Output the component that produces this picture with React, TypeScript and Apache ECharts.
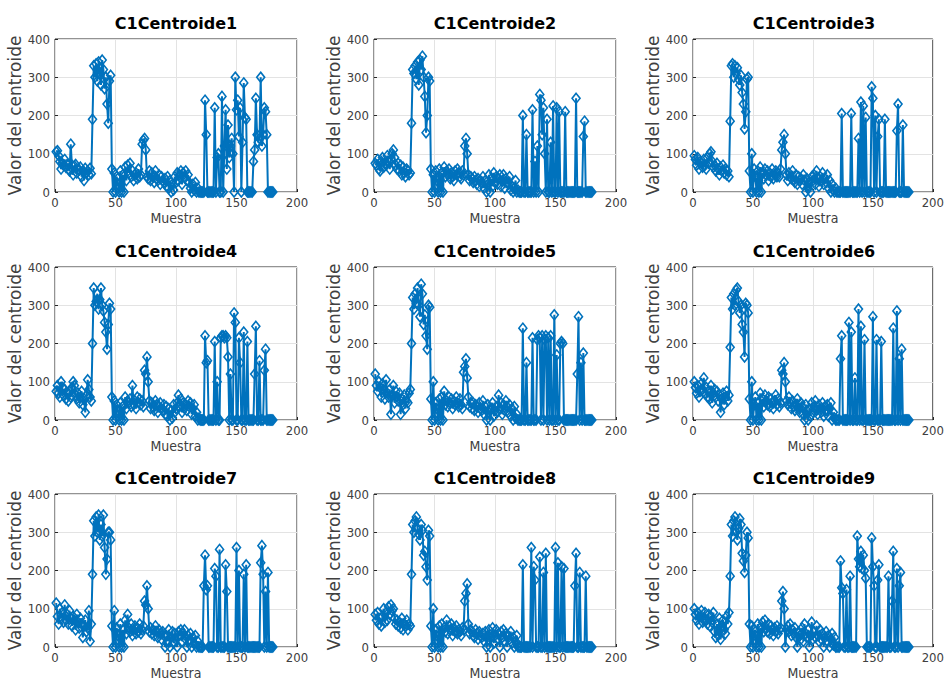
import React, { useEffect, useRef } from 'react';
import * as echarts from 'echarts';

const titles = ['C1Centroide1', 'C1Centroide2', 'C1Centroide3', 'C1Centroide4', 'C1Centroide5', 'C1Centroide6', 'C1Centroide7', 'C1Centroide8', 'C1Centroide9'];
const xTicks = [0, 50, 100, 150, 200];
const yTicks = [0, 100, 200, 300, 400];
const xLabel = 'Muestra';
const yLabel = 'Valor del centroide';

const s1 = [
  105, 108, 95, 80, 60, 75, 70, 85, 65, 72,
  60, 55, 125, 70, 45, 68, 72, 50, 60, 58,
  65, 40, 55, 30, 62, 50, 55, 45, 62, 48,
  190, 330, 300, 335, 290, 340, 310, 280, 345, 320,
  270, 300, 230, 180, 290, 305, 60, 0, 50, 0,
  40, 20, 0, 55, 0, 45, 0, 65, 30, 70,
  50, 75, 40, 55, 30, 45, 50, 35, 60, 40,
  45, 125, 135, 140, 110, 40, 35, 55, 30, 50,
  40, 25, 55, 35, 30, 45, 20, 40, 30, 25,
  35, 15, 40, 10, 30, 0, 20, 5, 40, 25,
  50, 30, 45, 55, 20, 50, 40, 55, 30, 45,
  25, 10, 0, 20, 5, 25, 0, 10, 0, 0,
  0, 0, 0, 240, 150, 0, 0, 0, 0, 0,
  0, 220, 0, 90, 100, 0, 0, 250, 0, 120,
  215, 60, 175, 90, 120, 140, 100, 0, 300, 215,
  240, 145, 220, 0, 130, 285, 195, 190, 0, 0,
  0, 0, 0, 80, 110, 245, 150, 130, 140, 300,
  120, 150, 220, 210, 150, 0, 0, 0, 0, 0,
];
const s2 = [
  75, 70, 85, 60, 55, 80, 90, 65, 75, 70,
  95, 80, 60, 85, 100, 110, 90, 70, 60, 75,
  55, 70, 45, 65, 50, 40, 60, 55, 45, 50,
  180, 320, 310, 330, 295, 340, 280, 345, 320, 355,
  300, 250, 155, 200, 300, 290, 60, 0, 45, 0,
  55, 30, 0, 60, 0, 50, 0, 65, 40, 55,
  45, 60, 35, 50, 40, 30, 55, 45, 60, 50,
  40, 35, 55, 45, 120, 140, 100, 45, 30, 40,
  35, 25, 40, 30, 20, 35, 15, 30, 25, 40,
  10, 30, 0, 20, 45, 0, 35, 15, 50, 25,
  40, 20, 35, 45, 15, 30, 45, 10, 35, 25,
  20, 40, 5, 15, 0, 10, 30, 0, 5, 0,
  0, 0, 200, 0, 0, 150, 0, 0, 0, 0,
  215, 0, 80, 0, 120, 0, 255, 240, 150, 220,
  100, 0, 190, 0, 0, 130, 0, 225, 0, 0,
  220, 0, 210, 0, 0, 0, 0, 210, 0, 0,
  0, 0, 0, 0, 0, 0, 245, 0, 0, 0,
  0, 0, 145, 185, 0, 0, 0, 0, 0, 0,
];
const s3 = [
  95, 85, 70, 90, 60, 80, 75, 65, 85, 70,
  60, 90, 75, 100, 105, 80, 65, 70, 55, 75,
  60, 45, 65, 55, 70, 50, 60, 45, 55, 40,
  185, 330, 335, 300, 330, 310, 325, 295, 280, 305,
  260, 230, 165, 210, 295, 300, 55, 0, 100, 0,
  60, 40, 0, 55, 0, 65, 0, 50, 35, 60,
  45, 55, 30, 50, 40, 60, 35, 45, 55, 40,
  50, 40, 60, 110, 130, 150, 100, 45, 30, 50,
  40, 35, 55, 30, 25, 45, 20, 40, 30, 35,
  20, 45, 30, 0, 35, 10, 25, 0, 40, 30,
  45, 20, 55, 35, 15, 40, 30, 50, 20, 35,
  25, 45, 10, 30, 0, 20, 5, 0, 10, 0,
  0, 0, 0, 205, 0, 0, 0, 0, 0, 0,
  0, 205, 0, 0, 0, 0, 0, 140, 0, 235,
  0, 225, 0, 195, 0, 0, 0, 0, 275, 245,
  0, 200, 0, 145, 190, 0, 0, 0, 0, 190,
  0, 0, 0, 0, 0, 0, 0, 0, 0, 160,
  230, 0, 0, 0, 175, 0, 0, 0, 0, 0,
];
const s4 = [
  75, 90, 70, 60, 100, 85, 65, 80, 55, 70,
  50, 75, 60, 85, 100, 90, 65, 55, 70, 45,
  60, 75, 40, 55, 20, 65, 105, 80, 60, 50,
  200, 345, 300, 310, 330, 290, 315, 345, 300, 285,
  255, 230, 185, 250, 305, 290, 60, 0, 50, 0,
  40, 25, 0, 45, 0, 35, 0, 60, 30, 50,
  45, 55, 35, 90, 40, 50, 30, 60, 45, 55,
  40, 50, 35, 130, 120, 165, 100, 50, 30, 45,
  35, 25, 50, 40, 20, 35, 45, 30, 25, 40,
  15, 35, 10, 30, 0, 25, 5, 40, 20, 30,
  45, 65, 35, 55, 20, 45, 30, 40, 25, 50,
  35, 45, 15, 30, 40, 10, 20, 0, 5, 0,
  0, 0, 0, 220, 150, 155, 0, 0, 0, 0,
  0, 205, 0, 100, 0, 0, 215, 220, 220, 215,
  220, 215, 165, 0, 120, 0, 0, 280, 255, 0,
  0, 215, 150, 0, 0, 230, 0, 0, 205, 0,
  0, 0, 0, 0, 120, 245, 0, 0, 155, 0,
  0, 0, 130, 185, 0, 0, 0, 0, 0, 0,
];
const s5 = [
  120, 90, 75, 100, 85, 60, 95, 80, 55, 105,
  70, 60, 80, 15, 65, 90, 45, 75, 60, 50,
  70, 15, 55, 40, 65, 30, 50, 45, 70, 80,
  200, 320, 290, 330, 305, 345, 300, 270, 355, 330,
  250, 275, 220, 185, 300, 295, 55, 0, 100, 0,
  45, 30, 0, 55, 0, 60, 0, 75, 40, 50,
  35, 60, 45, 55, 30, 50, 40, 60, 45, 35,
  55, 40, 30, 125, 140, 160, 110, 60, 35, 45,
  30, 45, 25, 40, 35, 20, 45, 30, 25, 50,
  15, 35, 0, 40, 20, 0, 30, 45, 10, 25,
  35, 20, 65, 30, 45, 15, 40, 25, 50, 35,
  20, 40, 10, 30, 0, 35, 5, 15, 0, 0,
  0, 0, 240, 0, 0, 150, 0, 0, 0, 0,
  215, 0, 0, 0, 210, 220, 215, 0, 220, 0,
  210, 220, 0, 215, 0, 220, 0, 0, 275, 0,
  170, 0, 0, 200, 205, 200, 0, 0, 0, 0,
  0, 0, 0, 0, 0, 0, 0, 120, 270, 0,
  150, 0, 175, 0, 0, 0, 0, 0, 0, 0,
];
const s6 = [
  100, 85, 70, 90, 60, 75, 95, 80, 110, 70,
  85, 60, 75, 55, 90, 45, 70, 80, 60, 75,
  50, 65, 20, 55, 70, 40, 60, 75, 50, 65,
  190, 320, 290, 330, 300, 340, 345, 310, 280, 300,
  250, 230, 165, 305, 300, 280, 55, 0, 100, 0,
  40, 60, 0, 45, 0, 70, 0, 55, 35, 65,
  50, 40, 60, 35, 55, 45, 30, 50, 65, 40,
  55, 35, 45, 130, 120, 150, 100, 50, 40, 60,
  45, 30, 50, 35, 25, 40, 55, 30, 20, 45,
  35, 15, 0, 40, 25, 0, 30, 10, 45, 20,
  35, 50, 25, 15, 40, 30, 20, 45, 10, 35,
  25, 40, 10, 30, 45, 0, 20, 5, 0, 0,
  0, 0, 160, 220, 0, 0, 0, 0, 0, 255,
  0, 230, 0, 0, 110, 0, 0, 290, 0, 245,
  0, 0, 210, 0, 0, 0, 0, 0, 0, 270,
  0, 0, 210, 0, 0, 0, 205, 0, 0, 0,
  0, 0, 0, 0, 0, 0, 240, 0, 0, 285,
  0, 160, 0, 185, 0, 0, 0, 0, 0, 0,
];
const s7 = [
  115, 80, 60, 100, 75, 90, 65, 110, 70, 85,
  60, 95, 75, 55, 80, 70, 45, 85, 65, 50,
  75, 60, 25, 55, 70, 40, 50, 95, 15, 60,
  190, 330, 290, 340, 300, 345, 280, 320, 290, 345,
  260, 190, 230, 300, 300, 280, 55, 0, 95, 0,
  50, 30, 0, 60, 0, 45, 0, 70, 35, 85,
  50, 40, 60, 30, 45, 55, 35, 50, 40, 60,
  35, 45, 55, 120, 110, 160, 100, 40, 50, 35,
  45, 30, 55, 40, 25, 45, 35, 20, 40, 30,
  0, 30, 15, 45, 0, 25, 40, 10, 35, 20,
  0, 40, 30, 45, 15, 35, 45, 20, 0, 30,
  20, 35, 0, 25, 10, 30, 0, 15, 0, 0,
  0, 0, 160, 240, 150, 160, 0, 0, 0, 0,
  0, 205, 185, 0, 0, 255, 0, 0, 0, 0,
  215, 145, 0, 0, 0, 0, 0, 0, 0, 260,
  0, 200, 0, 0, 0, 190, 0, 215, 0, 0,
  0, 0, 0, 0, 0, 0, 0, 0, 0, 220,
  265, 190, 0, 145, 0, 195, 0, 0, 0, 0,
];
const s8 = [
  85, 70, 90, 60, 75, 55, 80, 100, 65, 90,
  70, 105, 85, 110, 95, 100, 75, 60, 70, 55,
  65, 50, 75, 45, 60, 55, 70, 45, 60, 55,
  190, 320, 300, 330, 340, 310, 295, 280, 320, 305,
  240, 250, 210, 175, 305, 290, 55, 0, 100, 0,
  45, 30, 0, 55, 0, 60, 0, 50, 40, 70,
  35, 55, 45, 60, 30, 50, 40, 55, 35, 45,
  40, 30, 50, 45, 120, 140, 165, 60, 35, 45,
  40, 30, 25, 45, 35, 20, 40, 30, 25, 35,
  15, 40, 0, 30, 45, 0, 25, 50, 10, 30,
  45, 20, 35, 0, 40, 25, 45, 15, 35, 0,
  30, 20, 40, 10, 25, 0, 15, 30, 0, 0,
  0, 0, 215, 0, 0, 0, 0, 0, 0, 260,
  0, 210, 175, 0, 0, 0, 235, 0, 0, 195,
  0, 245, 0, 0, 0, 0, 0, 0, 0, 260,
  0, 220, 0, 0, 210, 0, 205, 0, 0, 0,
  0, 0, 0, 0, 0, 160, 245, 0, 0, 195,
  0, 0, 0, 0, 185, 0, 0, 0, 0, 0,
];
const s9 = [
  100, 85, 70, 90, 60, 80, 95, 65, 75, 90,
  70, 60, 85, 55, 80, 65, 90, 40, 25, 60,
  30, 75, 20, 55, 70, 45, 35, 80, 60, 90,
  185, 320, 290, 330, 340, 300, 280, 310, 335, 320,
  245, 225, 195, 240, 300, 285, 60, 0, 55, 0,
  45, 30, 0, 60, 0, 50, 0, 65, 40, 70,
  50, 40, 60, 35, 55, 45, 30, 50, 40, 55,
  35, 45, 50, 120, 145, 100, 0, 45, 55, 40,
  60, 30, 45, 35, 50, 25, 0, 40, 30, 20,
  50, 15, 60, 35, 25, 45, 0, 30, 65, 20,
  40, 25, 55, 30, 15, 45, 20, 35, 0, 25,
  40, 15, 30, 0, 20, 35, 5, 25, 0, 0,
  0, 0, 225, 155, 140, 0, 0, 150, 0, 0,
  185, 0, 0, 0, 0, 0, 290, 230, 210, 250,
  205, 240, 200, 180, 0, 0, 0, 0, 285, 210,
  160, 0, 0, 175, 215, 0, 0, 0, 0, 0,
  0, 0, 185, 0, 0, 120, 250, 0, 0, 205,
  0, 160, 195, 0, 0, 0, 0, 0, 0, 0,
];
const seriesData = [s1, s2, s3, s4, s5, s6, s7, s8, s9];

const BLUE = '#0072BD';
const NARROW = '"DejaVu Sans Condensed", "DejaVu Sans", sans-serif';

export default function App() {
  const ref = useRef<HTMLDivElement>(null);
  useEffect(() => {
    if (!ref.current) return;
    const chart = echarts.init(ref.current, null, { renderer: 'svg' });
    const lefts = [55, 374, 693];
    const tops = [39, 267, 494];
    const W = 242;
    const H = 153;
    const grids: any[] = [];
    const xAxes: any[] = [];
    const yAxes: any[] = [];
    const series: any[] = [];
    const graphics: any[] = [];
    for (let i = 0; i < 9; i++) {
      const c = i % 3;
      const r = Math.floor(i / 3);
      grids.push({
        left: lefts[c], top: tops[r], width: W, height: H,
        show: true, borderColor: '#262626', borderWidth: 1, backgroundColor: '#fff',
      });
      xAxes.push({
        gridIndex: i, type: 'value', min: xTicks[0], max: xTicks[xTicks.length - 1], interval: 50,
        name: xLabel, nameLocation: 'middle', nameGap: 19,
        nameTextStyle: { fontSize: 14, color: '#404040', fontFamily: NARROW },
        axisLine: { show: false },
        axisTick: { show: true, inside: true, length: 3, lineStyle: { color: '#262626' } },
        axisLabel: { color: '#404040', fontSize: 13, margin: 4, fontFamily: NARROW },
        splitLine: { show: true, lineStyle: { color: '#e3e3e3', width: 1 } },
      });
      yAxes.push({
        gridIndex: i, type: 'value', min: yTicks[0], max: yTicks[yTicks.length - 1], interval: 100,
        name: yLabel, nameLocation: 'middle', nameRotate: 90, nameGap: 24,
        nameTextStyle: { fontSize: 17, color: '#404040', fontFamily: '"DejaVu Sans", sans-serif' },
        axisLine: { show: false },
        axisTick: { show: true, inside: true, length: 3, lineStyle: { color: '#262626' } },
        axisLabel: { color: '#404040', fontSize: 13, margin: 5, fontFamily: NARROW },
        splitLine: { show: true, lineStyle: { color: '#e3e3e3', width: 1 } },
      });
      series.push({
        type: 'line', xAxisIndex: i, yAxisIndex: i,
        data: seriesData[i].map((v, k) => [k + 1, v]),
        symbol: 'diamond', symbolSize: [8, 10], showAllSymbol: true, clip: false,
        lineStyle: { color: BLUE, width: 2 },
        itemStyle: { color: 'rgba(255,255,255,0)', borderColor: BLUE, borderWidth: 1.6 },
      });
      graphics.push({
        type: 'text', x: lefts[c] + W / 2, y: tops[r] - 16,
        style: {
          text: titles[i], align: 'center', verticalAlign: 'middle',
          font: 'bold 16px "DejaVu Sans", sans-serif', fill: '#000',
        },
      });
    }
    chart.setOption({
      animation: false,
      backgroundColor: '#fff',
      grid: grids,
      xAxis: xAxes,
      yAxis: yAxes,
      series,
      graphic: graphics,
    });
    return () => chart.dispose();
  }, []);
  return <div ref={ref} style={{ position: 'fixed', left: 0, top: 0, width: 947, height: 688 }} />;
}
